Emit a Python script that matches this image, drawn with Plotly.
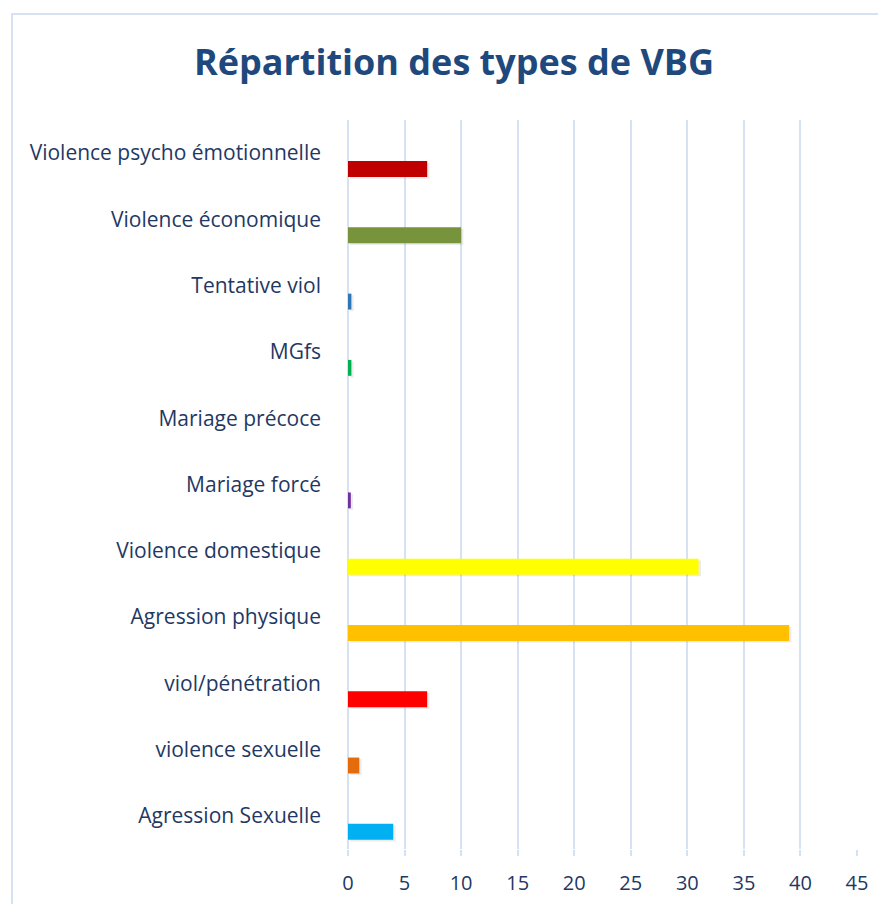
import plotly.graph_objects as go

categories = [
    "Agression Sexuelle",
    "violence sexuelle",
    "viol/pénétration",
    "Agression physique",
    "Violence domestique",
    "Mariage forcé",
    "Mariage précoce",
    "MGfs",
    "Tentative viol",
    "Violence économique",
    "Violence psycho émotionnelle",
]
values = [4, 1, 7, 39, 31, 0.25, 0, 0.3, 0.3, 10, 7]
colors = ["#00B0F0", "#E46C0A", "#FF0000", "#FFC000", "#FFFF00", "#7030A0",
          "#4472C4", "#00B050", "#2E75B6", "#77933C", "#C00000"]
x_ticks = [0, 5, 10, 15, 20, 25, 30, 35, 40, 45]

FONT = "Open Sans"
TXT = "#1F3864"
GRID = "#D6E2F3"

L, R, T, B = 340, 37, 112, 63
PW = 886 - L - R
PH = 904 - T - B

fig = go.Figure()
# soft shadow
fig.add_trace(go.Bar(
    y=categories, x=values, orientation="h",
    offset=-0.385, width=0.24, base=0.2,
    marker=dict(color="rgba(0,0,0,0.08)", line=dict(width=0)),
    hoverinfo="skip", showlegend=False,
))
fig.add_trace(go.Bar(
    y=categories, x=values, orientation="h",
    offset=-0.36, width=0.24,
    marker=dict(color=colors, line=dict(width=0)),
    showlegend=False,
))

fig.update_layout(
    width=886, height=904,
    margin=dict(l=L, r=R, t=T, b=B),
    paper_bgcolor="white", plot_bgcolor="white",
    barmode="overlay",
    title=dict(text="<b>Répartition des types de VBG</b>", x=(454 - 8) / 886, xanchor="center",
               y=1 - (62 - 8) / 904, yanchor="middle",
               font=dict(family=FONT, size=36, color="#1F497D")),
    font=dict(family=FONT, size=21, color=TXT),
    xaxis=dict(range=[0, 45], tickvals=x_ticks, showgrid=True, gridcolor=GRID, gridwidth=2,
               zeroline=True, zerolinecolor=GRID, zerolinewidth=2,
               ticks="outside", ticklen=6, tickcolor=GRID, tickwidth=2,
               ticklabelstandoff=10,
               tickfont=dict(family=FONT, size=20, color=TXT), fixedrange=True),
    yaxis=dict(type="category", categoryorder="array", categoryarray=categories,
               showgrid=False, zeroline=False, showline=False, ticks="",
               ticklabelstandoff=26,
               tickfont=dict(family=FONT, size=21, color=TXT), fixedrange=True),
    shapes=[dict(type="rect", xref="paper", yref="paper",
                 x0=(12 - 8 - L) / PW, x1=(900 - L) / PW,
                 y0=-(B + 20) / PH, y1=1 + (T - 6) / PH,
                 line=dict(color="#D6E2F3", width=2), fillcolor="rgba(0,0,0,0)", layer="below")],
)

fig.write_html("out.html")
